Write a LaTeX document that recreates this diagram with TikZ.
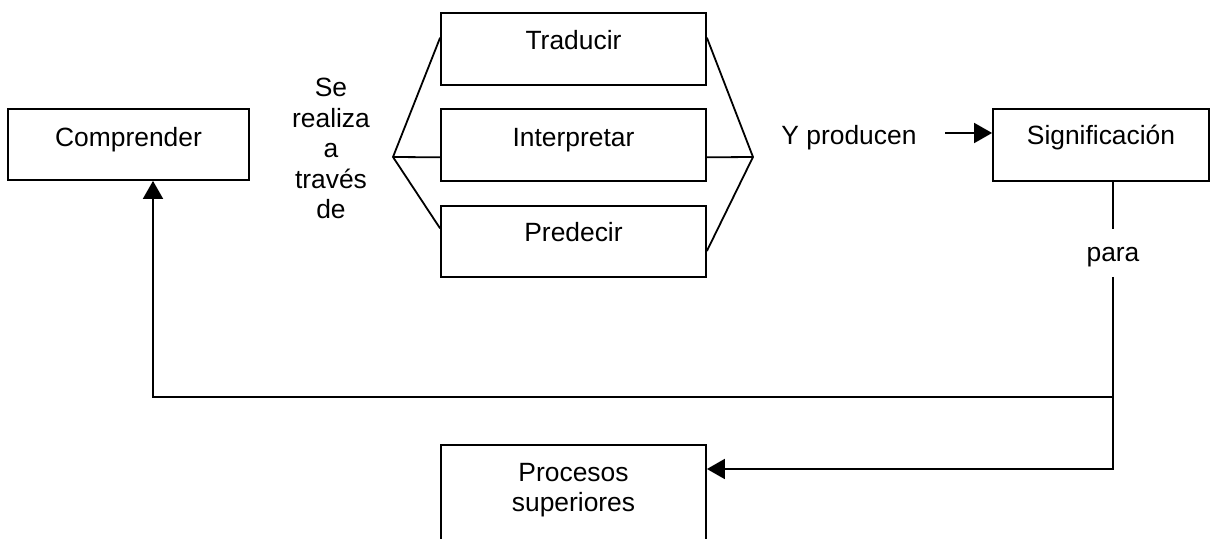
\documentclass[tikz,border=0pt]{standalone}
\usepackage{fontspec}
\setmainfont{Liberation Sans}
\usetikzlibrary{arrows.meta,calc}
\begin{document}
\begin{tikzpicture}[x=0.5pt,y=-0.5pt,
  box/.style={draw,line width=0.9pt,inner sep=0pt,minimum width=132.5pt,minimum height=36pt},
  txt/.style={inner sep=0pt,font=\fontsize{13.2pt}{15.2pt}\selectfont},
  ln/.style={line width=0.9pt},
  arr/.style={line width=0.9pt,-{Triangle[length=9pt,width=10pt]}}]
\useasboundingbox (0,0) rectangle (1212,539);
\clip (0,0) rectangle (1212,539);
% boxes
\node[box,minimum width=120.5pt,minimum height=35.5pt] (comp) at (128.5,144.5) {};
\node[box] (trad) at (573.5,49) {};
\node[box] (interp) at (573.5,145) {};
\node[box,minimum height=35.5pt] (pred) at (573.5,241.5) {};
\node[box,minimum width=108pt] (sig) at (1101,145) {};
\node[box,minimum height=50pt] (proc) at (573.5,495) {};
% texts
\node[txt,anchor=base] (tcomp) at (128.5,147) {Comprender};
\node[txt,anchor=base] (ttrad) at (573.5,50) {Traducir};
\node[txt,anchor=base] (tinterp) at (573.5,147) {Interpretar};
\node[txt,anchor=base] (tpred) at (573.5,242) {Predecir};
\node[txt,anchor=base] (tsig) at (1101,145) {Significación};
\node[txt,anchor=north,align=center] (tse) at (331,78) {Se\\realiza\\a\\través\\de};
\node[txt,anchor=base] (typ) at (849,145) {Y producen};
\node[txt,anchor=base] (tpara) at (1113,262) {para};
\node[txt,anchor=north,align=center] (tproc) at (573.5,463) {Procesos\\superiores};
% fan on the left
\coordinate (lv) at (393,157);
\draw[ln] ($(trad.north west)!0.347!(trad.south west)$) -- (lv) -- ($(pred.north west)!0.32!(pred.south west)$);
\draw[ln] (lv) -- ($(interp.north west)!0.667!(interp.south west)$);
% fan on the right
\coordinate (rv) at (753,157);
\draw[ln] ($(trad.north east)!0.347!(trad.south east)$) -- (rv) -- ($(pred.north east)!0.63!(pred.south east)$);
\draw[ln] ($(interp.north east)!0.667!(interp.south east)$) -- (rv);
% Y producen arrow
\coordinate (ypstart) at (945,133);
\draw[arr] (ypstart) -- (sig.west |- ypstart);
% para connectors
\coordinate (paratop) at (1113,229);
\coordinate (parabot) at (1113,277);
\coordinate (junction) at (1113,397);
\coordinate (corner) at (1113,469);
\coordinate (cl) at (153,397);
\draw[ln] (sig.south -| paratop) -- (paratop);
\draw[arr] (parabot) -- (corner) -- (proc.east |- corner);
\draw[arr] (junction) -- (cl) -- (comp.south -| cl);
\end{tikzpicture}
\end{document}
